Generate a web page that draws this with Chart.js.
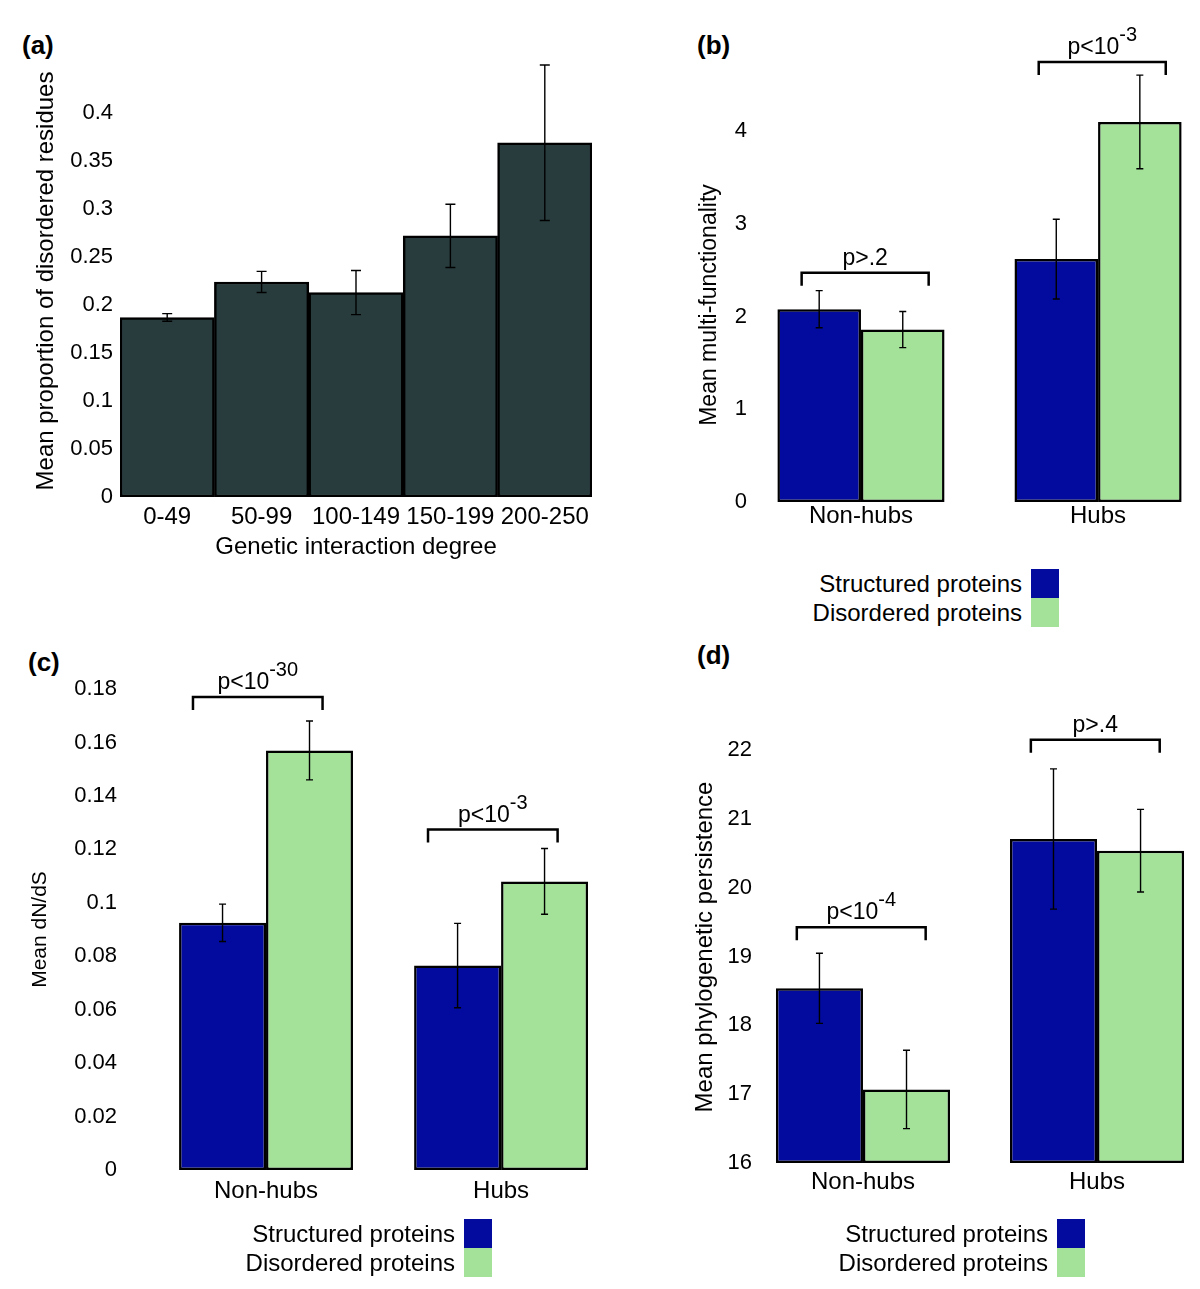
<!DOCTYPE html>
<html>
<head>
<meta charset="utf-8">
<script src="https://cdn.jsdelivr.net/npm/chart.js@4.4.0/dist/chart.umd.min.js"></script>
<style>
  html, body { margin: 0; padding: 0; background: #fff; }
  body { width: 1200px; height: 1289px; position: relative; overflow: hidden; font-family: "Liberation Sans", Arial, sans-serif; color: #000; }
  canvas { position: absolute; }
  .panel-label { position: absolute; font-weight: bold; font-size: 26px; line-height: 30px; }
  .legend { position: absolute; font-size: 24px; z-index: 2; }
  .legend-row { display: flex; align-items: center; justify-content: flex-end; height: 29px; }
  .legend-row .sw { display: inline-block; width: 28px; height: 29px; margin-left: 9px; }
</style>
</head>
<body>
<div class="panel-label" style="left:22px;top:30px">(a)</div>
<div class="panel-label" style="left:697px;top:30px">(b)</div>
<div class="panel-label" style="left:28px;top:647px">(c)</div>
<div class="panel-label" style="left:697px;top:640px">(d)</div>

<canvas id="chart-a" width="625" height="600" style="left:0;top:0"></canvas>
<canvas id="chart-b" width="560" height="560" style="left:640px;top:0"></canvas>
<canvas id="chart-c" width="620" height="580" style="left:0;top:640px"></canvas>
<canvas id="chart-d" width="560" height="580" style="left:640px;top:640px"></canvas>

<div class="legend" id="legend-b" style="right:141px;top:569px"></div>
<div class="legend" id="legend-c" style="right:708px;top:1219px"></div>
<div class="legend" id="legend-d" style="right:115px;top:1219px"></div>

<script>
// (a) disorder vs genetic interaction degree
const degreeBins = ['0-49', '50-99', '100-149', '150-199', '200-250'];
const disorderMeans = [0.187, 0.224, 0.213, 0.272, 0.369];
const disorderErr = [0.004, 0.011, 0.023, 0.033, 0.081];
const disorderTicks = [0, 0.05, 0.1, 0.15, 0.2, 0.25, 0.3, 0.35, 0.4];

// shared groups for (b)-(d)
const hubGroups = ['Non-hubs', 'Hubs'];
const seriesNames = ['Structured proteins', 'Disordered proteins'];

// (b) multi-functionality
const multiStructured = [2.08, 2.62];
const multiStructuredErr = [0.20, 0.43];
const multiDisordered = [1.86, 4.10];
const multiDisorderedErr = [0.195, 0.505];
const multiPValues = ['p>.2', 'p<10^-3'];
const multiTicks = [0, 1, 2, 3, 4];

// (c) dN/dS
const dndsStructured = [0.0925, 0.0765];
const dndsStructuredErr = [0.007, 0.0158];
const dndsDisordered = [0.157, 0.108];
const dndsDisorderedErr = [0.011, 0.0123];
const dndsPValues = ['p<10^-30', 'p<10^-3'];
const dndsTicks = [0, 0.02, 0.04, 0.06, 0.08, 0.1, 0.12, 0.14, 0.16, 0.18];

// (d) phylogenetic persistence
const persStructured = [18.54, 20.71];
const persStructuredErr = [0.51, 1.02];
const persDisordered = [17.07, 20.54];
const persDisorderedErr = [0.57, 0.60];
const persPValues = ['p<10^-4', 'p>.4'];
const persTicks = [16, 17, 18, 19, 20, 21, 22];

const FONT = '"Liberation Sans", Arial, sans-serif';
const STRUCT_COLOR = '#020b9e';
const DIS_COLOR = '#a4e29a';
const DARK_COLOR = '#283c3e';

Chart.defaults.font.family = FONT;
Chart.defaults.color = '#000';

function valueOf(point) {
    return typeof point === 'object' ? point.y : point;
}

// plain tick text: 0.4 rather than 0.40
const plainTick = v => String(+v.toFixed(4));

// error bars drawn on top of every bar
const errorBars = {
    id: 'errorBars',
    afterDatasetsDraw(chart, args, opts) {
        const ctx = chart.ctx;
        const yScale = chart.scales.y;
        ctx.save();
        ctx.strokeStyle = '#000';
        ctx.lineWidth = opts.lineWidth || 1.3;
        chart.data.datasets.forEach((ds, di) => {
            if (!ds.errors) return;
            chart.getDatasetMeta(di).data.forEach((bar, i) => {
                const v = valueOf(ds.data[i]);
                const top = yScale.getPixelForValue(v + ds.errors[i]);
                const bot = yScale.getPixelForValue(v - ds.errors[i]);
                const w = opts.cap || 4;
                ctx.beginPath();
                ctx.moveTo(bar.x, top); ctx.lineTo(bar.x, bot);
                ctx.moveTo(bar.x - w, top); ctx.lineTo(bar.x + w, top);
                ctx.moveTo(bar.x - w, bot); ctx.lineTo(bar.x + w, bot);
                ctx.stroke();
            });
        });
        ctx.restore();
    }
};

// significance brackets over each group
const pBrackets = {
    id: 'pBrackets',
    afterDatasetsDraw(chart, args, opts) {
        if (!opts.labels) return;
        const ctx = chart.ctx;
        const yScale = chart.scales.y;
        const dsA = chart.data.datasets[0], dsB = chart.data.datasets[1];
        const metaA = chart.getDatasetMeta(0), metaB = chart.getDatasetMeta(1);
        ctx.save();
        opts.labels.forEach((label, i) => {
            const a = metaA.data[i], b = metaB.data[i];
            const left = a.x - a.width / 2;
            const width = b.x + b.width / 2 - left;
            const x0 = left + opts.span[0] * width;
            const x1 = left + opts.span[1] * width;
            const topA = yScale.getPixelForValue(valueOf(dsA.data[i]) + dsA.errors[i]);
            const topB = yScale.getPixelForValue(valueOf(dsB.data[i]) + dsB.errors[i]);
            const yb = Math.min(topA, topB) - opts.gaps[i];

            ctx.strokeStyle = '#000';
            ctx.lineWidth = 2.5;
            ctx.beginPath();
            ctx.moveTo(x0, yb + 13);
            ctx.lineTo(x0, yb);
            ctx.lineTo(x1, yb);
            ctx.lineTo(x1, yb + 13);
            ctx.stroke();

            const parts = label.split('^');
            const baseFont = '23px ' + FONT;
            const expFont = '20px ' + FONT;
            ctx.font = baseFont;
            const wb = ctx.measureText(parts[0]).width;
            let we = 0;
            if (parts[1]) { ctx.font = expFont; we = ctx.measureText(parts[1]).width; }
            const sx = (x0 + x1) / 2 - (wb + we) / 2;
            ctx.fillStyle = '#000';
            ctx.textAlign = 'left';
            ctx.textBaseline = 'alphabetic';
            ctx.font = baseFont;
            ctx.fillText(parts[0], sx, yb - 8);
            if (parts[1]) {
                ctx.font = expFont;
                ctx.fillText(parts[1], sx + wb, yb - 21);
            }
        });
        ctx.restore();
    }
};

// Panel (a)
new Chart(document.getElementById('chart-a'), {
    type: 'bar',
    data: {
        labels: degreeBins,
        datasets: [{
            data: disorderMeans,
            errors: disorderErr,
            backgroundColor: DARK_COLOR,
            borderColor: '#000',
            borderWidth: 2.5,
            borderSkipped: false,
            categoryPercentage: 1,
            barPercentage: 1
        }]
    },
    options: {
        responsive: false,
        animation: false,
        layout: { padding: { top: 65, right: 33, left: 0, bottom: 0 } },
        plugins: {
            legend: { display: false },
            tooltip: { enabled: false },
            errorBars: { cap: 5, lineWidth: 1.4 }
        },
        scales: {
            x: {
                grid: { display: false, drawTicks: false },
                border: { display: false },
                ticks: { padding: 6, font: { size: 24 }, maxRotation: 0, autoSkip: false },
                title: { display: true, text: 'Genetic interaction degree', font: { size: 24 }, padding: { top: 0, bottom: 38 } },
                afterFit: s => { s.height = 103; }
            },
            y: {
                min: 0,
                max: 0.45,
                grid: { display: false, drawTicks: false },
                border: { display: false },
                afterBuildTicks: s => { s.ticks = disorderTicks.map(v => ({ value: v })); },
                ticks: { padding: 7, font: { size: 22 }, callback: plainTick },
                title: { display: true, text: 'Mean proportion of disordered residues', font: { size: 24 }, padding: { top: 32, bottom: 0 } },
                afterFit: s => { s.width = 120; }
            }
        }
    },
    plugins: [errorBars]
});

function groupedChart(id, cfg) {
    const toPoints = arr => arr.map((v, i) => ({ x: i, y: v }));
    return new Chart(document.getElementById(id), {
        type: 'bar',
        data: {
            datasets: [
                {
                    label: seriesNames[0],
                    data: toPoints(cfg.structured),
                    errors: cfg.structuredErr,
                    backgroundColor: STRUCT_COLOR
                },
                {
                    label: seriesNames[1],
                    data: toPoints(cfg.disordered),
                    errors: cfg.disorderedErr,
                    backgroundColor: DIS_COLOR
                }
            ]
        },
        options: {
            responsive: false,
            animation: false,
            layout: { padding: { top: cfg.top, right: 0, left: 0, bottom: 0 } },
            datasets: {
                bar: {
                    base: cfg.yMin,
                    borderColor: '#000',
                    borderWidth: 2.5,
                    borderSkipped: false,
                    categoryPercentage: cfg.groupWidth,
                    barPercentage: 1
                }
            },
            plugins: {
                legend: { display: false },
                tooltip: { enabled: false },
                errorBars: { cap: 3.5, lineWidth: 1.4 },
                pBrackets: { labels: cfg.pValues, span: cfg.span, gaps: cfg.gaps }
            },
            scales: {
                x: {
                    type: 'linear',
                    min: cfg.xMin,
                    max: cfg.xMax,
                    offset: false,
                    grid: { display: false, drawTicks: false },
                    border: { display: false },
                    afterBuildTicks: s => { s.ticks = hubGroups.map((g, i) => ({ value: i })); },
                    ticks: { callback: v => hubGroups[v], padding: cfg.xPad, font: { size: 24 }, maxRotation: 0, autoSkip: false },
                    afterFit: s => { s.height = cfg.xHeight; }
                },
                y: {
                    min: cfg.yMin,
                    max: cfg.yMax,
                    grid: { display: false, drawTicks: false },
                    border: { display: false },
                    afterBuildTicks: s => { s.ticks = cfg.ticks.map(v => ({ value: v })); },
                    ticks: { padding: 8, font: { size: 22 }, callback: plainTick },
                    title: { display: true, text: cfg.yTitle, font: { size: cfg.titleSize }, padding: { top: cfg.titlePad, bottom: 0 } },
                    afterFit: s => { s.width = cfg.yWidth; }
                }
            }
        },
        plugins: [errorBars, pBrackets]
    });
}

groupedChart('chart-b', {
    structured: multiStructured, structuredErr: multiStructuredErr,
    disordered: multiDisordered, disorderedErr: multiDisorderedErr,
    pValues: multiPValues, ticks: multiTicks,
    yMin: 0, yMax: 4.25, xMin: -0.447, xMax: 1.43,
    top: 108, yWidth: 115, xHeight: 58, xPad: 0, groupWidth: 0.705,
    yTitle: 'Mean multi-functionality', titleSize: 23, titlePad: 56,
    span: [0.145, 0.905], gaps: [18, 13]
});

groupedChart('chart-c', {
    structured: dndsStructured, structuredErr: dndsStructuredErr,
    disordered: dndsDisordered, disorderedErr: dndsDisorderedErr,
    pValues: dndsPValues, ticks: dndsTicks,
    yMin: 0, yMax: 0.18, xMin: -0.6, xMax: 1.506,
    top: 49, yWidth: 125, xHeight: 50, xPad: 7, groupWidth: 0.74,
    yTitle: 'Mean dN/dS', titleSize: 21, titlePad: 28,
    span: [0.08, 0.825], gaps: [24, 19]
});

groupedChart('chart-d', {
    structured: persStructured, structuredErr: persStructuredErr,
    disordered: persDisordered, disorderedErr: persDisorderedErr,
    pValues: persPValues, ticks: persTicks,
    yMin: 16, yMax: 22.28, xMin: -0.44, xMax: 1.44,
    top: 91, yWidth: 120, xHeight: 57, xPad: 5, groupWidth: 0.744,
    yTitle: 'Mean phylogenetic persistence', titleSize: 24, titlePad: 51,
    span: [0.12, 0.86], gaps: [26, 29]
});

// legends: text on the left, colour swatch on the right
const seriesColors = [STRUCT_COLOR, DIS_COLOR];
['legend-b', 'legend-c', 'legend-d'].forEach(id => {
    const box = document.getElementById(id);
    seriesNames.forEach((name, i) => {
        const row = document.createElement('div');
        row.className = 'legend-row';
        const text = document.createElement('span');
        text.textContent = name;
        const sw = document.createElement('span');
        sw.className = 'sw';
        sw.style.background = seriesColors[i];
        row.appendChild(text);
        row.appendChild(sw);
        box.appendChild(row);
    });
});
</script>
</body>
</html>
